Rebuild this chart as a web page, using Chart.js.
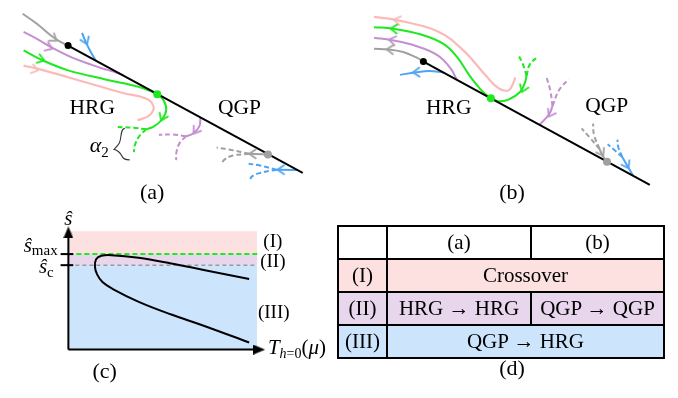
<!DOCTYPE html>
<html><head><meta charset="utf-8">
<script src="https://cdn.jsdelivr.net/npm/chart.js@4/dist/chart.umd.min.js"></script>
<style>
html,body{margin:0;padding:0;background:#fff;overflow:hidden;}
#wrap{position:relative;width:678px;height:398px;}
#c{position:absolute;left:0;top:0;}
#tbl{position:absolute;left:337px;top:225px;width:326px;height:134px;border-collapse:collapse;font-family:"Liberation Serif",serif;font-size:21px;table-layout:fixed;}
#tbl td{border:2px solid #000;text-align:center;padding:0;white-space:nowrap;height:31px;}
</style></head>
<body><div id="wrap"><canvas id="c" width="678" height="398"></canvas><table id="tbl"></table></div>
<script>
// ---------- colours ----------
const GRAY='#a0a0a0', BLUE='#4ea4f2', PURPLE='#c38fd0', GREEN='#1ee81e', PINK='#fbbaba', BLACK='#000';
const REG_I='#fde0e0', REG_II='#e8d6ec', REG_III='#cce5fc';

// ---------- panel (a) curves (figure coordinates) ----------
const aBoundary   = [[60.7,38.3],[301.7,171.7]];
const aGrayIn     = [[14,5],[28,15],[42,27],[52,34],[60.7,38.3]];
const aBlueIn     = [[75,25],[79,35],[84,45],[89,53.8]];
const aPurpleIn   = [[15,24],[30,32],[45,41],[65,51],[85,58.5],[100,63.5],[110,66.5],[118,69.8]];
const aGreenIn    = [[15,43.3],[33,53],[60,64],[100,74],[133,81.5],[152.3,89]];
const aGreenOut   = [[152.3,89],[159,96],[161.5,106],[157,116],[148,123.5],[141,126]];
const aGreenDash1 = [[141,126],[128,124.5],[111.7,123.5]];
const aGreenDash2 = [[141,126],[134,133],[129.5,142],[128.3,150]];
const aPink       = [[15,59.3],[33,63.5],[83,78],[117,88],[140,93.5],[148.5,102],[144,111.5],[132,116.7]];
const aPurpleOut  = [[196.7,113.6],[195.5,123],[189,130.5],[181.7,133.3]];
const aPurpleDash1= [[181.7,133.3],[168,131.5],[154,131.7]];
const aPurpleDash2= [[181.7,133.3],[175,141],[172,150],[171.7,158.3]];
const aGrayOut    = [[266,152.5],[246.7,151.7]];
const aGrayDash1  = [[246.7,151.7],[230,148],[213.3,145]];
const aGrayDash2  = [[246.7,151.7],[230,153.5],[221,158],[218.3,163.3]];
const aBlueOut    = [[296,168.5],[275,168.3]];
const aBlueDash1  = [[275,168.3],[258,164],[243.3,161.7]];
const aBlueDash2  = [[275,168.3],[258,171.7],[250,175],[246.7,180]];

// ---------- panel (b) curves ----------
const bBoundary   = [[425.7,55],[658.3,184.3]];
const bGrayOut    = [[425.7,55],[418,50.5],[405,45],[390,42.3],[375,41.7]];
const bBlueOut    = [[446,66.4],[432,65],[418,66.3],[401.7,69]];
const bPurpleOut  = [[460,74.1],[453.3,61.7],[440,48.3],[416.7,38.3],[393.3,32.7],[375,30]];
const bGreenOut   = [[495,93.5],[486.7,86.7],[473.3,70],[460,50],[446.7,36.7],[423.3,26.7],[395,20.7],[375,19]];
const bGreenIn    = [[531.7,70],[530,77],[525,87],[513,95],[503,96.5],[495,93.5]];
const bGreenDash1 = [[531.7,70],[528,58],[523.3,48.3]];
const bGreenDash2 = [[531.7,70],[535,58],[543.3,50]];
const bPink       = [[375,8.3],[398.3,11.7],[440,23.3],[466.7,43.3],[490,70],[503.3,83.3],[513.3,85],[518.3,77],[520,71.7]];
const bPurpleIn   = [[558.3,101.7],[555,110],[545,121.3]];
const bPurpleDash1= [[558.3,101.7],[556,85],[551.7,70]];
const bPurpleDash2= [[558.3,101.7],[565,85],[575,73.3]];
const bGrayIn     = [[606.7,146.7],[610,154],[614.3,160]];
const bGrayDash1  = [[606.7,146.7],[596,134],[588.3,125]];
const bGrayDash2  = [[606.7,146.7],[601,132],[600,120]];
const bBlueIn     = [[630,155],[635,164],[641,174.5]];
const bBlueDash1  = [[630,155],[621,147],[615,141.7]];
const bBlueDash2  = [[630,155],[626,145],[625,136.7]];

// fixed points (dots)
const blackDots = [[60.7,38.3],[425.7,55]];
const greenDots = [[152.3,89.2],[495,93.5]];
const grayDots  = [[266,152.5],[614.3,159.9]];

// flow arrows: [x, y, direction in degrees]
const grayArrows   = [[46.5,31.5,35],[391,42.4,183],[250,151.8,180],[609,151,60]];
const blueArrows   = [[79,34,68],[418,66.3,178],[279,168.3,180],[635,164,60]];
const purpleArrows = [[41.7,40.5,22],[393.3,32.7,190],[191.5,128,125],[556,110,120]];
const greenArrows  = [[33.3,53,18],[395,20.7,184],[157.5,114,115],[528,84,112]];
const pinkArrows   = [[27,63.5,14],[398.3,11.7,190]];

// ---------- panel (c) ----------
const cXRange   = [61,255];
const cRegionI  = [232.7,256.7];
const cRegionII = [256.7,268.3];
const cRegionIII= [268.3,356.7];
const cSmax = 256.7, cSc = 268.3;
const cCurve = [[246.7,282.7],[200,273.3],[166.7,266.5],[133,260.5],[105,257.8],[95,258.5],[89.5,262],[88.3,270],[90.5,278],[96,286],[106.7,293.3],[133.3,306.7],[166.7,320],[200,331.7],[246.7,349.3]];
const cYAxis = [[61,356.7],[61,236]];
const cXAxis = [[61,356.7],[254,356.7]];
const cArrowHeads = [[61,234,-90],[257,356.7,0]];
const cTickMax = [[53,256.7],[66,256.7]];
const cTickC   = [[53,268.3],[66,268.3]];

// ---------- panel (d) table ----------
const tableCols  = ['(a)','(b)'];
const tableRows  = ['(I)','(II)','(III)'];
const tableCells = [['Crossover'],['HRG → HRG','QGP → QGP'],['QGP → HRG']];
const tableRowColors = [REG_I, REG_II, REG_III];

// ---------- text labels ----------
const F='"Liberation Serif", "Times New Roman", serif';
const labels = [
  {x:85.5,y:110,al:'center',p:[{t:'HRG',s:21.5}]},
  {x:236.7,y:110,al:'center',p:[{t:'QGP',s:21.5}]},
  {x:147,y:199,al:'center',p:[{t:'(a)',s:22}]},
  {x:83,y:150,al:'left',p:[{t:'α',s:22,i:1},{t:'2',s:15,dy:5}]},
  {x:451.7,y:110,al:'center',p:[{t:'HRG',s:21.5}]},
  {x:614,y:108,al:'center',p:[{t:'QGP',s:21.5}]},
  {x:516.7,y:199,al:'center',p:[{t:'(b)',s:22}]},
  {x:61,y:226,al:'center',p:[{t:'ŝ',s:21,i:1}]},
  {x:50,y:254,al:'right',p:[{t:'ŝ',s:21,i:1},{t:'max',s:15,dy:3}]},
  {x:46,y:276,al:'right',p:[{t:'ŝ',s:21,i:1},{t:'c',s:15,dy:4}]},
  {x:271,y:249,al:'center',p:[{t:'(I)',s:19}]},
  {x:271,y:270,al:'center',p:[{t:'(II)',s:19}]},
  {x:272,y:324,al:'center',p:[{t:'(III)',s:19}]},
  {x:266,y:361,al:'left',p:[{t:'T',s:21,i:1},{t:'h',s:14,i:1,dy:4},{t:'=0',s:14,dy:4},{t:'(',s:21},{t:'μ',s:21,i:1},{t:')',s:21}]},
  {x:98.3,y:386,al:'center',p:[{t:'(c)',s:22}]},
  {x:516.7,y:383,al:'center',p:[{t:'(d)',s:22}]}
];

// ---------- helpers ----------
const pts = a => a.map(([x,y]) => ({x,y}));
const arr = a => a.map(([x,y,d]) => ({x,y,a:d}));
function chevron(color){
  const c=document.createElement('canvas'); c.width=16; c.height=16;
  const g=c.getContext('2d'); g.strokeStyle=color; g.lineWidth=1.8; g.lineCap='round'; g.lineJoin='round';
  g.beginPath(); g.moveTo(4.5,3.5); g.lineTo(11,8); g.lineTo(4.5,12.5); g.stroke(); return c;
}
function headCanvas(){
  const c=document.createElement('canvas'); c.width=12; c.height=10;
  const g=c.getContext('2d'); g.fillStyle='#000';
  g.beginPath(); g.moveTo(0,0); g.lineTo(12,5); g.lineTo(0,10); g.closePath(); g.fill(); return c;
}
function line(data,color,opt={}){
  return Object.assign({type:'scatter',data:pts(data),showLine:true,borderColor:color,borderWidth:2,
    pointRadius:0,tension:0.4,fill:false,order:5,borderCapStyle:'butt'},opt);
}
function dashed(data,color){ return line(data,color,{borderDash:[5,3]}); }
function arrows(data,color){
  return {type:'scatter',data:arr(data),showLine:false,pointStyle:chevron(color),pointRadius:8,
    pointRotation:ctx=>ctx.raw?ctx.raw.a:0,order:2};
}
function dots(data,color,r){
  return {type:'scatter',data:pts(data),showLine:false,pointRadius:r,pointBackgroundColor:color,pointBorderWidth:0,order:1};
}
function region(yr,color){
  return {type:'scatter',data:pts([[cXRange[0],yr[0]],[cXRange[1],yr[0]]]),showLine:true,borderWidth:0,
    pointRadius:0,fill:{value:yr[1]},backgroundColor:color,borderColor:'rgba(0,0,0,0)',order:20};
}

const datasets=[
  region(cRegionI,REG_I), region(cRegionII,REG_II), region(cRegionIII,REG_III),
  line(aBoundary,BLACK,{tension:0,order:3}), line(bBoundary,BLACK,{tension:0,order:3}),
  line(aGrayIn,GRAY), line(aBlueIn,BLUE), line(aPurpleIn,PURPLE), line(aGreenIn,GREEN), line(aGreenOut,GREEN),
  dashed(aGreenDash1,GREEN), dashed(aGreenDash2,GREEN), line(aPink,PINK,{borderWidth:2.2,order:6}),
  line(aPurpleOut,PURPLE), dashed(aPurpleDash1,PURPLE), dashed(aPurpleDash2,PURPLE),
  line(aGrayOut,GRAY,{tension:0}), dashed(aGrayDash1,GRAY), dashed(aGrayDash2,GRAY),
  line(aBlueOut,BLUE,{tension:0}), dashed(aBlueDash1,BLUE), dashed(aBlueDash2,BLUE),
  line(bGrayOut,GRAY), line(bBlueOut,BLUE), line(bPurpleOut,PURPLE), line(bGreenOut,GREEN), line(bGreenIn,GREEN),
  dashed(bGreenDash1,GREEN), dashed(bGreenDash2,GREEN), line(bPink,PINK,{borderWidth:2.2,order:6}),
  line(bPurpleIn,PURPLE), dashed(bPurpleDash1,PURPLE), dashed(bPurpleDash2,PURPLE),
  line(bGrayIn,GRAY), dashed(bGrayDash1,GRAY), dashed(bGrayDash2,GRAY),
  line(bBlueIn,BLUE), dashed(bBlueDash1,BLUE), dashed(bBlueDash2,BLUE),
  arrows(grayArrows,GRAY), arrows(blueArrows,BLUE), arrows(purpleArrows,PURPLE), arrows(greenArrows,GREEN), arrows(pinkArrows,PINK),
  dots(blackDots,BLACK,3.5), dots(greenDots,GREEN,4), dots(grayDots,GRAY,4),
  line([[cXRange[0],cSmax],[cXRange[1],cSmax]],GREEN,{tension:0,borderDash:[5,3],order:4}),
  line([[cXRange[0],cSc],[cXRange[1],cSc]],'#9a9a9a',{tension:0,borderDash:[4,3],borderWidth:1.5,order:4}),
  line(cCurve,BLACK,{order:3}),
  line(cYAxis,BLACK,{tension:0,order:3}), line(cXAxis,BLACK,{tension:0,order:3}),
  line(cTickMax,BLACK,{tension:0,order:3}), line(cTickC,BLACK,{tension:0,order:3}),
  {type:'scatter',data:arr(cArrowHeads),showLine:false,pointStyle:headCanvas(),pointRadius:6,pointRotation:ctx=>ctx.raw?ctx.raw.a:0,order:2}
];

const textPlugin={id:'texts',afterDatasetsDraw(chart){
  const g=chart.ctx, xs=chart.scales.x, ys=chart.scales.y;
  g.save(); g.fillStyle='#000'; g.textBaseline='alphabetic'; g.textAlign='left';
  for(const L of labels){
    let w=0; const ws=[];
    for(const p of L.p){ g.font=(p.i?'italic ':'')+p.s+'px '+F; const m=g.measureText(p.t).width; ws.push(m); w+=m; }
    let x=xs.getPixelForValue(L.x); const y=ys.getPixelForValue(L.y);
    if(L.al==='center') x-=w/2; else if(L.al==='right') x-=w;
    L.p.forEach((p,k)=>{ g.font=(p.i?'italic ':'')+p.s+'px '+F; g.fillText(p.t,x,y+(p.dy||0)); x+=ws[k]; });
  }
  // brace next to alpha_2
  const P=(a,b)=>[xs.getPixelForValue(a),ys.getPixelForValue(b)];
  g.strokeStyle='#333'; g.lineWidth=1.1; g.beginPath();
  let q=P(119,125); g.moveTo(...q);
  g.bezierCurveTo(...P(114,125),...P(116,136),...P(113,141));
  g.bezierCurveTo(...P(112,143),...P(110,145),...P(108,147));
  g.bezierCurveTo(...P(112,148),...P(114,150),...P(116,154));
  g.bezierCurveTo(...P(117,157),...P(121,158),...P(124,158));
  g.stroke();
  g.restore();
}};

new Chart(document.getElementById('c'),{
  type:'scatter',
  data:{datasets},
  options:{responsive:false,animation:false,events:[],
    layout:{padding:0},
    plugins:{legend:{display:false},tooltip:{enabled:false}},
    scales:{x:{type:'linear',min:0,max:678,display:false},y:{type:'linear',min:0,max:398,reverse:true,display:false}}
  },
  plugins:[textPlugin]
});

// build table
const tbl=document.getElementById('tbl');
const cg=document.createElement('colgroup');
[49,144,133].forEach(w=>{const c=document.createElement('col'); c.style.width=w+'px'; cg.appendChild(c);});
tbl.appendChild(cg);
let tr=document.createElement('tr'); tr.appendChild(document.createElement('td'));
tableCols.forEach(t=>{const td=document.createElement('td'); td.textContent=t; tr.appendChild(td);});
tbl.appendChild(tr);
tableRows.forEach((r,i)=>{
  const row=document.createElement('tr'); row.style.background=tableRowColors[i];
  const h=document.createElement('td'); h.textContent=r; row.appendChild(h);
  tableCells[i].forEach(t=>{const td=document.createElement('td'); td.textContent=t; if(tableCells[i].length===1) td.colSpan=2; row.appendChild(td);});
  tbl.appendChild(row);
});
</script>
</body></html>
